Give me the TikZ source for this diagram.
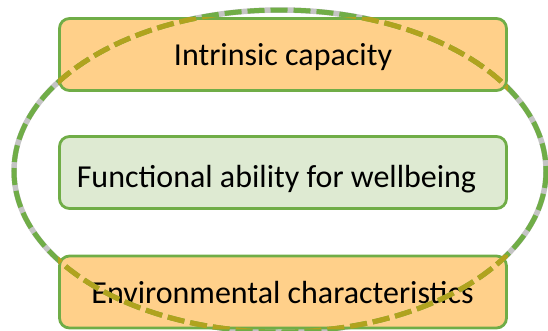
\documentclass[tikz,border=0pt]{standalone}
\usepackage{fontspec}
\setmainfont{Carlito}
\definecolor{boxgreen}{HTML}{70AD47}
\definecolor{boxorange}{HTML}{FFD08A}
\definecolor{boxlight}{HTML}{DEEAD2}
\definecolor{shadowgray}{HTML}{C4C4C4}
\definecolor{olive}{HTML}{B0A31E}
\begin{document}
\begin{tikzpicture}[x=1pt,y=-1pt,
  box/.style={draw=boxgreen, line width=2.8pt, rounded corners=10pt, minimum width=447pt, minimum height=72pt, inner sep=0pt},
  orangebox/.style={box, fill=boxorange},
  greenbox/.style={box, fill=boxlight},
  label/.style={font=\fontsize{32}{36}\selectfont, text=black, inner sep=0pt, anchor=base},
  ringshadow/.style={draw=shadowgray, line width=5.5pt},
  ringdash/.style={line width=5pt, dash pattern=on 17pt off 6pt}]
\useasboundingbox (0,0) rectangle (548,330);
\draw[ringshadow] (280,171) ellipse [x radius=266, y radius=161];
\node[orangebox] (ic) at (283,54.5) {};
\node[greenbox] (fa) at (283,172.5) {};
\node[orangebox] (ec) at (283,292) {};
\node[label] (t1) at (283,65) {Intrinsic capacity};
\node[label] (t2) at (276.5,187) {Functional ability for wellbeing};
\node[label] (t3) at (282.5,303) {Environmental characteristics};
\draw[ringdash, draw=boxgreen] (280,171) ellipse [x radius=266, y radius=161];
\begin{scope}
  \clip (ic.north west) rectangle (ic.south east) (ec.north west) rectangle (ec.south east);
  \draw[ringdash, draw=olive] (280,171) ellipse [x radius=266, y radius=161];
\end{scope}
\end{tikzpicture}
\end{document}
